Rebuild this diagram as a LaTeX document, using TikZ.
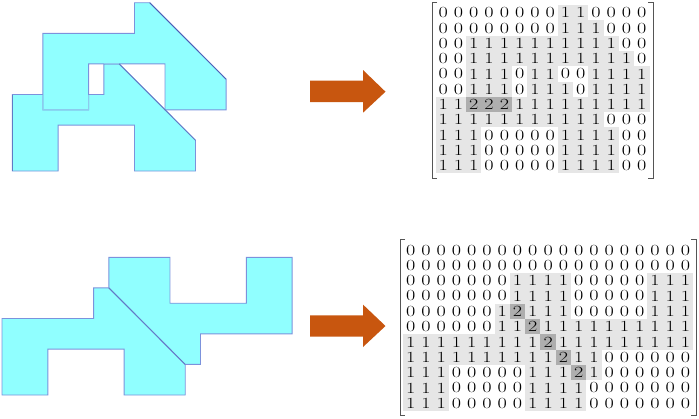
\documentclass[tikz,border=0pt]{standalone}
\usepackage{xcolor}
\usepackage{tikz}
\definecolor{shapefill}{HTML}{90FFFF}
\definecolor{shapeedge}{HTML}{7C92DC}
\definecolor{shapedark}{HTML}{4A5CB4}
\definecolor{shapemid}{HTML}{5F7CC4}
\definecolor{shapelight}{HTML}{8CCBEE}
\definecolor{arrowfill}{HTML}{C8560F}
\definecolor{cell0}{HTML}{FFFFFF}
\definecolor{cell1}{HTML}{E6E6E6}
\definecolor{cell2}{HTML}{AEAEAE}
\definecolor{bracket}{HTML}{555555}
\begin{document}
\begin{tikzpicture}[x=1pt,y=-1pt]
	\tikzstyle{every node}+=[inner sep=0pt]
	\tikzstyle{polyshape}=[draw=shapeedge,fill=shapefill,line width=0.9pt,line join=miter]
	\tikzstyle{darkedge}=[draw=shapedark,line width=0.8pt]
	\tikzstyle{midedge}=[draw=shapemid,line width=0.8pt]
	\tikzstyle{lightedge}=[draw=shapelight,line width=0.9pt]
	\tikzstyle{bigarrow}=[fill=arrowfill]
	\tikzstyle{matbracket}=[draw=bracket,line width=0.8pt]
	\tikzstyle{cellnode}=[minimum width=15.4pt,minimum height=15.4pt,font=\fontsize{15.5}{15.5}\selectfont]
	\useasboundingbox (0,0) rectangle (699,418);
	% top polygons
	\begin{scope}[shift={(12.3,2.7)},x=15.27pt,y=-15.3pt]
		\draw [polyshape] (0,6) -- (6,6) -- (6,4) -- (7,4) -- (12,9) -- (12,11) -- (8,11) -- (8,8) -- (3,8) -- (3,11) -- (0,11) -- cycle;
		\draw [polyshape] (8,0) -- (9,0) -- (14,5) -- (14,7) -- (10,7) -- (10,4) -- (5,4) -- (5,7) -- (2,7) -- (2,2) -- (8,2) -- cycle;
		\draw [lightedge] (2,6) -- (2,7) -- (5,7) -- (5,6);
		\draw [lightedge] (6,4) -- (7,4);
		\draw [darkedge] (9,0) -- (14,5);
		\draw [midedge] (7,4) -- (12,9);
		\draw [midedge] (0,6) -- (0,11);
	\end{scope}
	% bottom polygons
	\begin{scope}[shift={(2,257.3)},x=15.27pt,y=-15.3pt]
		\draw [polyshape] (0,4) -- (6,4) -- (6,2) -- (7,2) -- (12,7) -- (12,9) -- (8,9) -- (8,6) -- (3,6) -- (3,9) -- (0,9) -- cycle;
		\draw [polyshape] (7,0) -- (11,0) -- (11,3) -- (16,3) -- (16,0) -- (19,0) -- (19,5) -- (13,5) -- (13,7) -- (12,7) -- (7,2) -- cycle;
		\draw [midedge] (7,2) -- (12,7);
	\end{scope}
	% arrows
	\fill [bigarrow] (310,80.7) -- (363,80.7) -- (363,70) -- (385.5,91.7) -- (363,112.7) -- (363,102) -- (310,102) -- cycle;
	\fill [bigarrow] (310,315.3) -- (363,315.3) -- (363,304.6) -- (385.5,326) -- (363,347) -- (363,336.6) -- (310,336.6) -- cycle;
	% top matrix
	\foreach \cellrow [count=\j from 0] in {
		{0,0,0,0,0,0,0,0,1,1,0,0,0,0},
		{0,0,0,0,0,0,0,0,1,1,1,0,0,0},
		{0,0,1,1,1,1,1,1,1,1,1,1,0,0},
		{0,0,1,1,1,1,1,1,1,1,1,1,1,0},
		{0,0,1,1,1,0,1,1,0,0,1,1,1,1},
		{0,0,1,1,1,0,1,1,1,0,1,1,1,1},
		{1,1,2,2,2,1,1,1,1,1,1,1,1,1},
		{1,1,1,1,1,1,1,1,1,1,1,0,0,0},
		{1,1,1,0,0,0,0,0,1,1,1,1,0,0},
		{1,1,1,0,0,0,0,0,1,1,1,1,0,0},
		{1,1,1,0,0,0,0,0,1,1,1,1,0,0}}
		\foreach \v [count=\i from 0] in \cellrow
			\node (a\j-\i) [cellnode,fill=cell\v] at ({443.3+15.27*\i},{12.7+15.3*\j}) {\scalebox{1.3}[1]{\v}};
	\draw [matbracket] (437,2) -- (432,2) -- (432,178) -- (437,178);
	\draw [matbracket] (648,2) -- (653,2) -- (653,178) -- (648,178);
	% bottom matrix
	\foreach \cellrow [count=\j from 0] in {
		{0,0,0,0,0,0,0,0,0,0,0,0,0,0,0,0,0,0,0},
		{0,0,0,0,0,0,0,0,0,0,0,0,0,0,0,0,0,0,0},
		{0,0,0,0,0,0,0,1,1,1,1,0,0,0,0,0,1,1,1},
		{0,0,0,0,0,0,0,1,1,1,1,0,0,0,0,0,1,1,1},
		{0,0,0,0,0,0,1,2,1,1,1,0,0,0,0,0,1,1,1},
		{0,0,0,0,0,0,1,1,2,1,1,1,1,1,1,1,1,1,1},
		{1,1,1,1,1,1,1,1,1,2,1,1,1,1,1,1,1,1,1},
		{1,1,1,1,1,1,1,1,1,1,2,1,1,0,0,0,0,0,0},
		{1,1,1,0,0,0,0,0,1,1,1,2,1,0,0,0,0,0,0},
		{1,1,1,0,0,0,0,0,1,1,1,1,0,0,0,0,0,0,0},
		{1,1,1,0,0,0,0,0,1,1,1,1,0,0,0,0,0,0,0}}
		\foreach \v [count=\i from 0] in \cellrow
			\node (b\j-\i) [cellnode,fill=cell\v] at ({410.7+15.27*\i},{250+15.33*\j}) {\scalebox{1.3}[1]{\v}};
	\draw [matbracket] (405,239) -- (400,239) -- (400,415) -- (405,415);
	\draw [matbracket] (691,239) -- (696,239) -- (696,415) -- (691,415);
\end{tikzpicture}
\end{document}
